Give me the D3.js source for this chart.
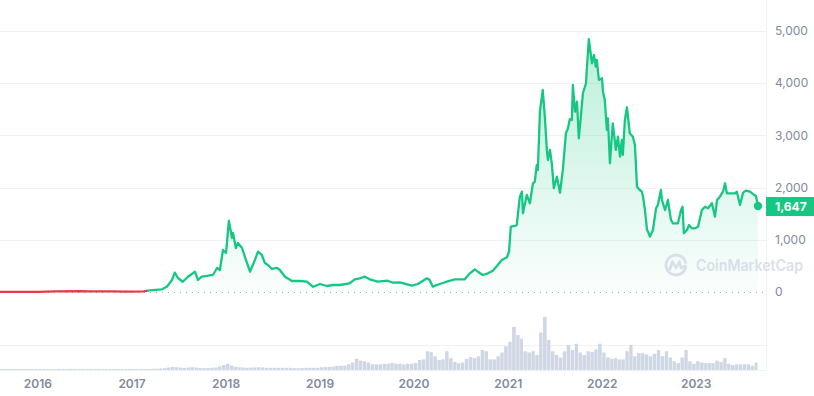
<!DOCTYPE html>
<html>
<head>
<meta charset="utf-8">
<script src="https://cdn.jsdelivr.net/npm/d3@7"></script>
<style>
    html, body { margin: 0; padding: 0; background: #fff; }
    svg { display: block; font-family: Inter, 'Noto Sans', sans-serif; }
</style>
</head>
<body>
<svg id="chart" width="814" height="396"></svg>
<script>
// price (USD)
const prices = [
    ['2015-08-07', 2.8], ['2015-10-20', 0.5], ['2016-01-01', 0.95], ['2016-03-10', 11],
    ['2016-06-15', 18], ['2016-07-15', 11], ['2016-10-15', 12], ['2016-12-15', 7.5],
    ['2017-02-15', 12], ['2017-03-10', 30], ['2017-04-27', 52], ['2017-05-16', 100],
    ['2017-06-05', 230], ['2017-06-16', 370], ['2017-06-28', 268], ['2017-07-17', 197],
    ['2017-08-06', 293], ['2017-08-25', 358], ['2017-09-02', 389], ['2017-09-14', 230],
    ['2017-09-29', 293], ['2017-10-19', 307], ['2017-11-11', 326], ['2017-11-27', 460],
    ['2017-12-08', 421], ['2017-12-20', 805], ['2018-01-01', 747], ['2018-01-12', 1366],
    ['2018-01-24', 1035], ['2018-01-28', 1130], ['2018-02-08', 843], ['2018-02-16', 939],
    ['2018-03-04', 843], ['2018-03-15', 676], ['2018-04-04', 389], ['2018-04-23', 613],
    ['2018-05-05', 772], ['2018-05-20', 709], ['2018-06-01', 556], ['2018-06-13', 517],
    ['2018-06-28', 441], ['2018-07-18', 460], ['2018-07-29', 421], ['2018-08-18', 293],
    ['2018-09-14', 211], ['2018-10-15', 211], ['2018-11-11', 197], ['2018-12-05', 100],
    ['2019-01-01', 153], ['2019-01-28', 115], ['2019-02-20', 134], ['2019-03-19', 134],
    ['2019-04-26', 167], ['2019-05-16', 243], ['2019-06-04', 262], ['2019-06-24', 293],
    ['2019-07-13', 243], ['2019-08-13', 197], ['2019-09-21', 216], ['2019-10-11', 178],
    ['2019-11-07', 186], ['2019-12-23', 121], ['2020-01-16', 153], ['2020-02-20', 262],
    ['2020-03-02', 230], ['2020-03-14', 102], ['2020-04-10', 153], ['2020-05-07', 197],
    ['2020-06-07', 243], ['2020-07-16', 243], ['2020-08-05', 358], ['2020-08-24', 435],
    ['2020-09-05', 389], ['2020-09-24', 326], ['2020-10-14', 358], ['2020-11-02', 408],
    ['2020-11-18', 498], ['2020-12-07', 613], ['2020-12-27', 665], ['2021-01-04', 772],
    ['2021-01-11', 1251], ['2021-01-27', 1265], ['2021-02-03', 1284], ['2021-02-15', 1826],
    ['2021-02-23', 1922], ['2021-02-27', 1508], ['2021-03-14', 1859], ['2021-03-26', 1700],
    ['2021-04-07', 2083], ['2021-04-14', 2113], ['2021-04-22', 2433], ['2021-04-26', 2338],
    ['2021-05-04', 3455], ['2021-05-15', 3870], ['2021-05-23', 3359], ['2021-05-31', 2721],
    ['2021-06-04', 2529], ['2021-06-12', 2721], ['2021-06-19', 2466], ['2021-06-27', 1987],
    ['2021-07-09', 2209], ['2021-07-21', 1903], ['2021-08-01', 2338], ['2021-08-13', 3041],
    ['2021-08-21', 3137], ['2021-08-28', 3309], ['2021-09-05', 3296], ['2021-09-09', 3966],
    ['2021-09-17', 3455], ['2021-09-25', 3646], ['2021-10-02', 2945], ['2021-10-14', 3583],
    ['2021-10-18', 3807], ['2021-10-30', 3999], ['2021-11-02', 4254], ['2021-11-10', 4842],
    ['2021-11-22', 4382], ['2021-11-30', 4541], ['2021-12-07', 4317], ['2021-12-11', 4445],
    ['2021-12-19', 4062], ['2021-12-31', 4094], ['2022-01-04', 3838], ['2022-01-11', 3679],
    ['2022-01-19', 3104], ['2022-01-23', 3328], ['2022-01-31', 2466], ['2022-02-11', 3232],
    ['2022-02-23', 2721], ['2022-03-03', 2976], ['2022-03-11', 2592], ['2022-03-18', 2912],
    ['2022-03-22', 2625], ['2022-03-30', 3296], ['2022-04-07', 3539], ['2022-04-18', 3041],
    ['2022-04-30', 2976], ['2022-05-08', 2817], ['2022-05-16', 2018], ['2022-05-27', 1954],
    ['2022-06-04', 1922], ['2022-06-08', 1839], ['2022-06-16', 1571], ['2022-06-24', 1188],
    ['2022-06-28', 1155], ['2022-07-05', 1060], ['2022-07-17', 1188], ['2022-07-29', 1604],
    ['2022-08-05', 1667], ['2022-08-17', 1954], ['2022-08-21', 1763], ['2022-09-02', 1571],
    ['2022-09-13', 1763], ['2022-09-25', 1380], ['2022-10-03', 1316], ['2022-10-22', 1316],
    ['2022-11-03', 1571], ['2022-11-09', 1634], ['2022-11-14', 1125], ['2022-11-26', 1188],
    ['2022-12-04', 1284], ['2022-12-15', 1220], ['2022-12-27', 1220], ['2023-01-08', 1251],
    ['2023-01-23', 1571], ['2023-02-04', 1634], ['2023-02-16', 1604], ['2023-03-03', 1700],
    ['2023-03-15', 1443], ['2023-03-23', 1763], ['2023-04-03', 1826], ['2023-04-15', 1922],
    ['2023-04-23', 2083], ['2023-04-30', 1891], ['2023-05-20', 1891], ['2023-06-01', 1891],
    ['2023-06-08', 1922], ['2023-06-20', 1667], ['2023-07-02', 1903], ['2023-07-13', 1941],
    ['2023-07-29', 1922], ['2023-08-09', 1878], ['2023-08-21', 1839], ['2023-08-29', 1647]
]

// volume (bn USD), month -> [1st half, 2nd half]
const volumes = [
    ['2015-08', 1.5, 1.5], ['2015-09', 1.5, 1.5], ['2015-10', 1.5, 1.5], ['2015-11', 1.5, 1.5], ['2015-12', 1.5, 1.5],
    ['2016-01', 1.5, 1.5], ['2016-02', 1.5, 1.5], ['2016-03', 1.5, 1.5], ['2016-04', 1.5, 1.5], ['2016-05', 1.5, 1.5], ['2016-06', 1.5, 1.5],
    ['2016-07', 1.5, 1.5], ['2016-08', 1.5, 1.5], ['2016-09', 1.5, 1.5], ['2016-10', 1.5, 1.5], ['2016-11', 1.5, 1.5], ['2016-12', 1.5, 1.5],
    ['2017-01', 1.5, 1.5], ['2017-02', 1.5, 1.5], ['2017-03', 1.5, 2], ['2017-04', 2, 2.5], ['2017-05', 3, 4], ['2017-06', 5, 4.5],
    ['2017-07', 4, 3.5], ['2017-08', 4, 4.5], ['2017-09', 4, 3.5], ['2017-10', 3, 3], ['2017-11', 3.5, 4], ['2017-12', 6, 8],
    ['2018-01', 10, 7], ['2018-02', 5, 4.5], ['2018-03', 4, 3.5], ['2018-04', 4, 4], ['2018-05', 4.5, 4], ['2018-06', 3.5, 3.5],
    ['2018-07', 3.5, 3.5], ['2018-08', 3.5, 3.5], ['2018-09', 3.5, 3], ['2018-10', 3, 3], ['2018-11', 3.5, 3.5], ['2018-12', 3.5, 3.5],
    ['2019-01', 4.5, 5], ['2019-02', 5, 5.5], ['2019-03', 6.5, 7], ['2019-04', 7, 9], ['2019-05', 12, 18], ['2019-06', 15, 14],
    ['2019-07', 12, 9], ['2019-08', 9, 9], ['2019-09', 10, 10], ['2019-10', 11, 10], ['2019-11', 10, 9], ['2019-12', 10, 10],
    ['2020-01', 11, 16], ['2020-02', 17, 30], ['2020-03', 29, 22], ['2020-04', 16, 17], ['2020-05', 30, 19], ['2020-06', 13, 11],
    ['2020-07', 12, 18], ['2020-08', 21, 19], ['2020-09', 22, 32], ['2020-10', 30, 17], ['2020-11', 17, 22], ['2020-12', 28, 38],
    ['2021-01', 45, 69], ['2021-02', 56, 50], ['2021-03', 30, 28], ['2021-04', 30, 24], ['2021-05', 60, 85], ['2021-06', 48, 30],
    ['2021-07', 24, 20], ['2021-08', 30, 40], ['2021-09', 32, 42], ['2021-10', 28, 24], ['2021-11', 30, 29], ['2021-12', 33, 42],
    ['2022-01', 28, 20], ['2022-02', 18, 19], ['2022-03', 17, 17], ['2022-04', 30, 40], ['2022-05', 22, 27], ['2022-06', 27, 25],
    ['2022-07', 22, 26], ['2022-08', 32, 22], ['2022-09', 30, 20], ['2022-10', 14, 11], ['2022-11', 20, 32], ['2022-12', 14, 10],
    ['2023-01', 14, 12], ['2023-02', 11, 11], ['2023-03', 11, 15], ['2023-04', 13, 19], ['2023-05', 10, 8], ['2023-06', 9, 9],
    ['2023-07', 9, 9], ['2023-08', 7, 12]
]

const yearTicks = ['2016', '2017', '2018', '2019', '2020', '2021', '2022', '2023']
const priceTicks = [0, 1000, 2000, 3000, 4000, 5000]
const volumeTicks = [40]
const redUntil = '2017-03-01' // line drawn red before this
const lastLabel = '1,647'

const width = 814
const height = 396
const green = '#16c784'
const red = '#ea3943'
const gridColor = '#eff2f5'
const textColor = '#808a9d'

const parse = d3.timeParse('%Y-%m-%d')
let data = prices.map(d => ({ date: parse(d[0]), value: d[1] }))
let start = data[0].date
let end = data[data.length - 1].date

let x = d3.scaleTime().domain([start, end]).range([0, 758])
let y = d3.scaleLinear().domain([0, 5000]).range([292, 31])
let yv = d3.scaleLinear().domain([0, 96]).range([370, 310])

// half-month volume bars
let bars = []
volumes.forEach(function(row) {
    let a = parse(row[0] + '-01')
    let b = parse(row[0] + '-16')
    bars.push({ date: a < start ? start : a, value: row[1] })
    bars.push({ date: b, value: row[2] })
})
bars.forEach(function(d, i) {
    d.next = i < bars.length - 1 ? bars[i + 1].date : end
})

let svg = d3.select('#chart')
let defs = svg.append('defs')

let lg = defs.append('linearGradient')
    .attr('id', 'lineGrad')
    .attr('gradientUnits', 'userSpaceOnUse')
    .attr('x1', 0).attr('x2', width).attr('y1', 0).attr('y2', 0)
let cut = x(parse(redUntil)) / width
lg.append('stop').attr('offset', cut).attr('stop-color', red)
lg.append('stop').attr('offset', cut).attr('stop-color', green)

let ag = defs.append('linearGradient')
    .attr('id', 'areaGrad')
    .attr('gradientUnits', 'userSpaceOnUse')
    .attr('x1', 0).attr('x2', 0).attr('y1', y(5000)).attr('y2', y(0))
ag.append('stop').attr('offset', 0).attr('stop-color', green).attr('stop-opacity', 0.3)
ag.append('stop').attr('offset', 1).attr('stop-color', green).attr('stop-opacity', 0.02)

// grid
svg.append('g')
    .selectAll('line')
    .data(priceTicks.filter(d => d > 0))
    .join('line')
    .attr('x1', 0).attr('x2', 766)
    .attr('y1', d => Math.round(y(d)) + 0.5).attr('y2', d => Math.round(y(d)) + 0.5)
    .attr('stroke', gridColor)

svg.append('g')
    .selectAll('line')
    .data(volumeTicks)
    .join('line')
    .attr('x1', 0).attr('x2', 766)
    .attr('y1', d => Math.round(yv(d)) + 0.5).attr('y2', d => Math.round(yv(d)) + 0.5)
    .attr('stroke', gridColor)

svg.append('line')
    .attr('x1', 0).attr('x2', 766)
    .attr('y1', yv(0) + 0.5).attr('y2', yv(0) + 0.5)
    .attr('stroke', gridColor)

svg.append('line')
    .attr('x1', 766.5).attr('x2', 766.5)
    .attr('y1', 0).attr('y2', yv(0))
    .attr('stroke', gridColor)

// volume
svg.append('g')
    .selectAll('rect')
    .data(bars)
    .join('rect')
    .attr('x', d => x(d.date))
    .attr('width', d => Math.max(0.5, x(d.next) - x(d.date) - 0.5))
    .attr('y', d => yv(d.value))
    .attr('height', d => yv(0) - yv(d.value))
    .attr('fill', '#cfd6e4')

// zero line
svg.append('line')
    .attr('x1', 0).attr('x2', 763)
    .attr('y1', y(0) + 0.5).attr('y2', y(0) + 0.5)
    .attr('stroke', '#a1a7bb')
    .attr('stroke-dasharray', '1,5')

// area + line
svg.append('path')
    .datum(data)
    .attr('d', d3.area().x(d => x(d.date)).y0(y(0)).y1(d => y(d.value)))
    .attr('fill', 'url(#areaGrad)')

// watermark
let wm = svg.append('g').attr('transform', 'translate(676,265)').attr('opacity', 0.75)
wm.append('path')
    .attr('d', d3.arc()({ innerRadius: 8.6, outerRadius: 11.4, startAngle: 0.55 * Math.PI, endAngle: 2.45 * Math.PI }))
    .attr('fill', '#cfd6e4')
wm.append('path')
    .attr('d', 'M-6,4 L-3.5,-3.5 L0,3 L3.5,-3.5 L5,3 L9.5,1')
    .attr('fill', 'none')
    .attr('stroke', '#cfd6e4')
    .attr('stroke-width', 2.6)
    .attr('stroke-linejoin', 'round')
    .attr('stroke-linecap', 'round')
wm.append('text')
    .attr('x', 20).attr('y', 6)
    .attr('font-size', 15.5)
    .attr('font-weight', 600)
    .attr('textLength', 107)
    .attr('lengthAdjust', 'spacingAndGlyphs')
    .attr('fill', '#cfd6e4')
    .text('CoinMarketCap')

svg.append('path')
    .datum(data)
    .attr('d', d3.line().x(d => x(d.date)).y(d => y(d.value)))
    .attr('fill', 'none')
    .attr('stroke', 'url(#lineGrad)')
    .attr('stroke-width', 2.3)
    .attr('stroke-linejoin', 'round')

let last = data[data.length - 1]
svg.append('circle')
    .attr('cx', x(last.date)).attr('cy', y(last.value))
    .attr('r', 4.2)
    .attr('fill', green)

// right axis
svg.append('g')
    .selectAll('text')
    .data(priceTicks)
    .join('text')
    .attr('x', 775)
    .attr('y', d => y(d))
    .attr('dy', '0.35em')
    .attr('font-size', 12)
    .attr('fill', textColor)
    .text(d => d3.format(',')(d))

svg.append('rect')
    .attr('x', 766).attr('y', y(last.value) - 9)
    .attr('width', 48).attr('height', 19)
    .attr('fill', green)
svg.append('text')
    .attr('x', 775).attr('y', y(last.value) + 0.5)
    .attr('dy', '0.35em')
    .attr('font-size', 12)
    .attr('font-weight', 700)
    .attr('fill', '#fff')
    .text(lastLabel)

// year labels
svg.append('g')
    .selectAll('text')
    .data(yearTicks)
    .join('text')
    .attr('x', d => x(parse(d + '-01-01')))
    .attr('y', 388)
    .attr('text-anchor', 'middle')
    .attr('font-size', 12)
    .attr('font-weight', 600)
    .attr('fill', textColor)
    .text(d => d)
</script>
</body>
</html>
